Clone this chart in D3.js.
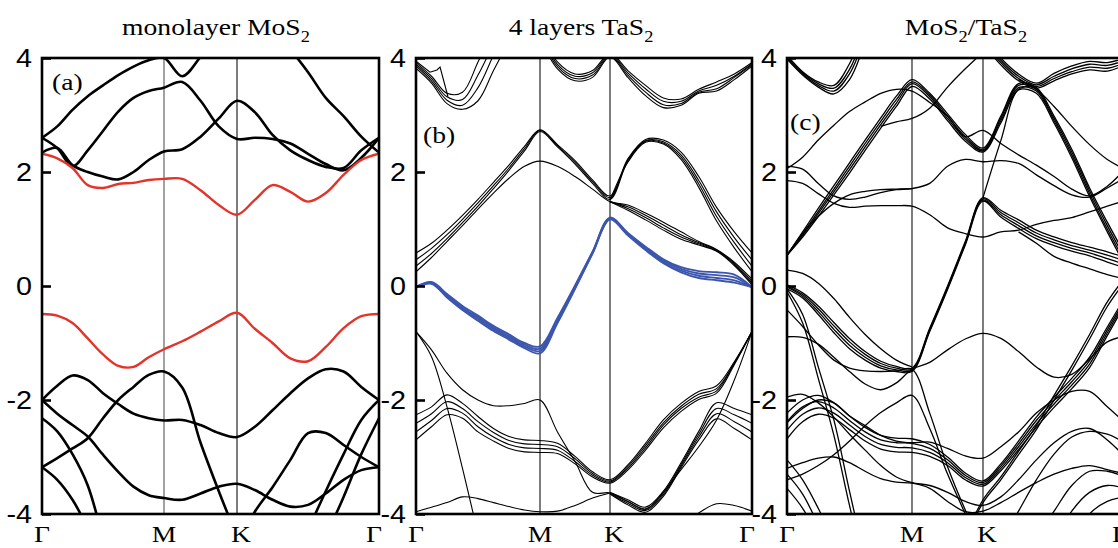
<!DOCTYPE html>
<html lang="en">
<head>
    <meta charset="UTF-8">
    <script src="https://d3js.org/d3.v7.min.js"></script>
    <title>Band structures</title>
    <style>
        body { margin: 0; background: #fff; }
        svg { display: block; }
        .serif { font-family: "Liberation Serif", "Times New Roman", serif; }
        .axis text { font-family: "Liberation Sans", Arial, sans-serif; }
    </style>
</head>
<body>
    <div id="chart"></div>
    <script>
        const _ = null;

        // k-path: Γ - M - K - Γ, energies sampled on this grid
        const kGrid = [0, 0.125, 0.25, 0.375, 0.5, 0.625, 0.75, 0.875, 1,
            1.144, 1.289, 1.433, 1.577,
            1.722, 1.866, 2.011, 2.155, 2.299, 2.444, 2.588, 2.732];
        const kTicks = [0, 1, 1.577, 2.732];
        const kLabels = ["Γ", "M", "K", "Γ"];
        const energyTicks = [4, 2, 0, -2, -4];

        // (a) monolayer MoS2
        const mosRed = [
            [2.32, 2.24, 2.07, 1.77, 1.72, 1.79, 1.81, 1.86, 1.88, 1.88, 1.68, 1.42, 1.25, 1.51, 1.77, 1.65, 1.48, 1.63, 1.95, 2.21, 2.32],
            [-0.49, -0.52, -0.65, -0.92, -1.20, -1.40, -1.42, -1.25, -1.11, -0.97, -0.80, -0.62, -0.47, -0.75, -1.00, -1.27, -1.32, -1.07, -0.74, -0.53, -0.49]
        ];
        const mosBlack = [
            [2.60, 2.80, 3.09, 3.33, 3.52, 3.70, 3.85, 3.96, 4.00, 3.68, 4.02, 4.40, 4.60, 4.60, 4.50, 4.15, 3.75, 3.30, 2.98, 2.62, 2.34],
            [2.60, 2.42, 2.10, 2.38, 2.72, 3.06, 3.30, 3.42, 3.48, 3.58, 3.25, 2.80, 2.58, 2.60, 2.58, 2.50, 2.32, 2.14, 2.03, 2.25, 2.60],
            [2.34, 2.42, 2.12, 2.00, 1.92, 1.87, 2.00, 2.21, 2.36, 2.40, 2.62, 2.94, 3.25, 3.05, 2.65, 2.38, 2.21, 2.09, 2.07, 2.38, 2.60],
            [-2.00, -1.75, -1.57, -1.65, -1.88, -2.07, -2.24, -2.32, -2.36, -2.35, -2.44, -2.58, -2.65, -2.47, -2.18, -1.88, -1.62, -1.46, -1.50, -1.77, -2.00],
            [-2.00, -2.24, -2.44, -2.64, -2.96, -3.26, -3.52, -3.67, -3.72, -3.75, -3.64, -3.52, -3.47, -3.58, -3.75, -3.87, -3.84, -3.64, -3.40, -3.23, -3.18],
            [-3.18, -3.02, -2.85, -2.67, -2.32, -2.00, -1.77, -1.56, -1.50, -1.78, -2.75, -3.60, -4.40, _, _, _, _, _, _, _, _],
            [-2.32, -2.55, -2.95, -3.50, -4.45, _, _, _, _, _, _, _, _, _, _, _, _, _, _, _, _],
            [-3.18, -3.40, -3.75, -4.25, _, _, _, _, _, _, _, _, _, _, _, _, _, _, _, _, _],
            [_, _, _, _, _, _, _, _, _, _, _, _, -4.60, -3.96, -3.53, -3.05, -2.58, -2.58, -2.79, -3.00, -3.18],
            [_, _, _, _, _, _, _, _, _, _, _, _, _, _, _, _, -4.28, -3.60, -2.95, -2.35, -2.00],
            [_, _, _, _, _, _, _, _, _, _, _, _, _, _, _, _, _, -4.40, -3.70, -2.95, -2.32]
        ];

        // (b) 4 layers TaS2
        const tasBlue = [
            [-0.02, 0.07, -0.14, -0.35, -0.52, -0.70, -0.85, -1.00, -1.06, -0.56, 0.01, 0.60, 1.20, 0.93, 0.69, 0.47, 0.33, 0.26, 0.24, 0.20, -0.02],
            [-0.02, 0.06, -0.16, -0.38, -0.55, -0.73, -0.88, -1.03, -1.10, -0.59, -0.01, 0.59, 1.19, 0.92, 0.67, 0.45, 0.30, 0.22, 0.19, 0.15, -0.02],
            [-0.02, 0.05, -0.18, -0.40, -0.58, -0.76, -0.91, -1.06, -1.14, -0.62, -0.03, 0.58, 1.18, 0.90, 0.65, 0.42, 0.27, 0.18, 0.14, 0.10, -0.02],
            [-0.02, 0.04, -0.20, -0.42, -0.61, -0.79, -0.94, -1.09, -1.18, -0.65, -0.05, 0.57, 1.17, 0.89, 0.63, 0.40, 0.24, 0.14, 0.10, 0.06, -0.02]
        ];
        const tasBlack = [
            // conduction bundle
            [0.58, 0.75, 0.98, 1.24, 1.52, 1.82, 2.12, 2.45, 2.74, 2.48, 2.20, 1.86, 1.58, 2.23, 2.57, 2.56, 2.35, 1.92, 1.38, 0.95, 0.58],
            [0.46, 0.66, 0.90, 1.17, 1.46, 1.76, 2.07, 2.41, 2.73, 2.46, 2.17, 1.83, 1.55, 2.21, 2.55, 2.53, 2.30, 1.85, 1.30, 0.85, 0.46],
            [0.35, 0.57, 0.83, 1.11, 1.40, 1.71, 2.03, 2.37, 2.71, 2.44, 2.14, 1.80, 1.52, 2.19, 2.54, 2.51, 2.26, 1.79, 1.22, 0.76, 0.35],
            [0.25, 0.50, 0.78, 1.06, 1.35, 1.63, 1.89, 2.10, 2.19, 2.10, 1.92, 1.70, 1.48, 1.42, 1.28, 1.12, 0.95, 0.78, 0.64, 0.42, 0.12],
            [_, _, _, _, _, _, _, _, _, _, _, _, 1.50, 2.17, 2.52, 2.49, 2.22, 1.73, 1.14, 0.67, 0.25],
            [_, _, _, _, _, _, _, _, _, _, _, _, 1.48, 1.39, 1.24, 1.07, 0.90, 0.76, 0.63, 0.40, 0.08],
            [_, _, _, _, _, _, _, _, _, _, _, _, 1.48, 1.36, 1.20, 1.02, 0.86, 0.74, 0.62, 0.38, 0.05],
            [_, _, _, _, _, _, _, _, _, _, _, _, 1.48, 1.33, 1.16, 0.98, 0.82, 0.72, 0.61, 0.36, 0.02],
            // top bands
            [3.92, 3.68, 3.38, 3.40, 3.93, 4.50, _, _, _, _, _, _, _, _, _, _, _, _, _, _, _],
            [3.89, 3.64, 3.32, 3.27, 3.70, 4.25, 4.80, _, _, _, _, _, _, _, _, _, _, _, _, _, _],
            [3.86, 3.60, 3.26, 3.17, 3.48, 4.05, 4.60, _, _, _, _, _, _, _, _, _, _, _, _, _, _],
            [3.82, 3.56, 3.20, 3.10, 3.25, 3.78, 4.30, _, _, _, _, _, _, _, _, _, _, _, _, _, _],
            [_, _, _, _, _, _, _, _, 4.50, 3.93, 3.72, 3.78, 4.08, 3.78, 3.52, 3.30, 3.28, 3.45, 3.58, 3.72, 3.92],
            [_, _, _, _, _, _, _, _, 4.45, 3.89, 3.68, 3.74, 4.06, 3.74, 3.46, 3.24, 3.24, 3.42, 3.52, 3.68, 3.90],
            [_, _, _, _, _, _, _, _, 4.40, 3.85, 3.64, 3.70, 4.04, 3.70, 3.40, 3.18, 3.20, 3.40, 3.46, 3.66, 3.88],
            [_, _, _, _, _, _, _, _, 4.35, 3.81, 3.60, 3.66, 4.02, 3.66, 3.34, 3.13, 3.17, 3.38, 3.42, 3.62, 3.86],
            // valence bands
            [-0.80, -1.24, -2.12, -3.20, -4.35, _, _, _, _, _, _, _, _, _, _, _, _, _, _, _, _],
            [-0.80, -1.12, -1.53, -1.82, -2.00, -2.10, -2.10, -2.06, -2.00, -2.56, -3.08, -3.62, -3.63, -3.78, -3.92, -3.62, -3.22, -2.82, -2.35, -1.65, -0.80],
            [-2.26, -2.12, -1.91, -2.06, -2.29, -2.50, -2.64, -2.70, -2.71, -2.76, -2.99, -3.26, -3.40, -3.14, -2.76, -2.35, -2.06, -1.85, -1.75, -1.33, -0.80],
            [-2.41, -2.24, -2.03, -2.15, -2.38, -2.57, -2.71, -2.77, -2.78, -2.82, -3.03, -3.29, -3.42, -3.17, -2.80, -2.40, -2.11, -1.90, -1.80, -1.35, -0.80],
            [-2.56, -2.36, -2.15, -2.23, -2.47, -2.65, -2.78, -2.84, -2.85, -2.88, -3.08, -3.32, -3.44, -3.20, -2.84, -2.44, -2.15, -1.95, -1.84, -1.36, -0.80],
            [-2.70, -2.47, -2.26, -2.32, -2.56, -2.72, -2.85, -2.91, -2.92, -2.94, -3.12, -3.35, -3.46, -3.23, -2.88, -2.49, -2.20, -1.99, -1.88, -1.38, -0.80],
            [_, _, _, _, _, _, _, _, _, _, _, _, -3.62, -3.75, -3.88, -3.60, -3.10, -2.55, -2.05, -2.15, -2.26],
            [_, _, _, _, _, _, _, _, _, _, _, _, -3.63, -3.78, -3.91, -3.63, -3.13, -2.60, -2.15, -2.26, -2.41],
            [_, _, _, _, _, _, _, _, _, _, _, _, -3.64, -3.81, -3.94, -3.66, -3.16, -2.65, -2.24, -2.38, -2.56],
            [_, _, _, _, _, _, _, _, _, _, _, _, -3.65, -3.84, -3.97, -3.69, -3.19, -2.70, -2.33, -2.50, -2.70],
            [-3.96, -3.88, -3.80, -3.70, -3.73, -3.80, -3.87, -3.93, -3.96, -3.95, -3.85, -3.72, -3.63, _, _, _, _, _, _, _, _],
            [_, _, _, _, _, _, _, _, _, _, _, _, _, _, _, _, -4.20, -3.98, -3.82, -3.85, -3.95]
        ];
        // small stepped band near the top left of (b), as [k, energy]
        const tasStep = [[0.008, 3.93], [0.113, 3.75], [0.169, 3.79], [0.194, 3.84], [0.258, 3.32]];

        // (c) MoS2/TaS2
        const hetBlack = [
            [4.05, 3.76, 3.58, 3.52, 3.90, 4.60, _, _, _, _, _, _, _, _, _, _, _, _, _, _, _],
            [4.02, 3.74, 3.55, 3.47, 3.80, 4.50, _, _, _, _, _, _, _, _, _, _, _, _, _, _, _],
            [4.00, 3.72, 3.52, 3.42, 3.72, 4.40, _, _, _, _, _, _, _, _, _, _, _, _, _, _, _],
            [3.98, 3.70, 3.49, 3.37, 3.62, 4.30, _, _, _, _, _, _, _, _, _, _, _, _, _, _, _],
            [0.54, 0.95, 1.36, 1.76, 2.16, 2.56, 2.95, 3.33, 3.62, 3.38, 3.02, 2.66, 2.42, 2.98, 3.55, 3.48, 2.98, 2.40, 1.72, 1.12, 0.55],
            [0.54, 0.92, 1.31, 1.70, 2.10, 2.50, 2.89, 3.27, 3.58, 3.35, 2.98, 2.62, 2.39, 2.94, 3.52, 3.45, 2.94, 2.35, 1.67, 1.06, 0.48],
            [0.54, 0.89, 1.27, 1.65, 2.04, 2.44, 2.83, 3.21, 3.55, 3.32, 2.94, 2.58, 2.37, 2.90, 3.48, 3.42, 2.90, 2.30, 1.62, 1.00, 0.42],
            [0.54, 0.86, 1.22, 1.60, 1.98, 2.38, 2.77, 3.15, 3.50, 3.28, 2.90, 2.54, 2.35, 2.86, 3.44, 3.38, 2.86, 2.25, 1.57, 0.95, 0.36],
            [_, _, _, _, _, _, _, _, _, _, _, _, 1.55, 2.55, 3.45, 3.50, _, _, _, _, _],
            [0.02, -0.12, -0.35, -0.64, -0.92, -1.15, -1.32, -1.41, -1.44, -0.74, 0.00, 0.78, 1.55, 1.33, 1.16, 0.98, 0.86, 0.76, 0.68, 0.60, 0.50],
            [0.00, -0.15, -0.40, -0.70, -0.98, -1.20, -1.36, -1.44, -1.46, -0.76, -0.02, 0.76, 1.53, 1.29, 1.11, 0.93, 0.81, 0.71, 0.63, 0.54, 0.44],
            [-0.02, -0.18, -0.45, -0.76, -1.04, -1.25, -1.40, -1.47, -1.48, -0.78, -0.04, 0.74, 1.51, 1.25, 1.06, 0.88, 0.76, 0.66, 0.58, 0.48, 0.38],
            [-0.05, -0.21, -0.50, -0.82, -1.10, -1.30, -1.44, -1.50, -1.50, -0.80, -0.06, 0.72, 1.49, 1.21, 1.01, 0.83, 0.71, 0.61, 0.53, 0.42, 0.32],
            [_, _, _, _, _, _, _, _, _, _, _, _, 4.40, 4.00, 3.72, 3.56, 3.73, 3.86, 3.94, 3.92, 4.00],
            [_, _, _, _, _, _, _, _, _, _, _, _, 4.35, 3.96, 3.68, 3.53, 3.68, 3.81, 3.89, 3.87, 3.96],
            [_, _, _, _, _, _, _, _, _, _, _, _, 4.30, 3.92, 3.64, 3.50, 3.64, 3.76, 3.84, 3.82, 3.92],
            [_, _, _, _, _, _, _, _, _, _, _, _, 4.25, 3.88, 3.60, 3.47, 3.60, 3.72, 3.79, 3.77, 3.88],
            [_, _, _, _, _, _, 2.80, 2.88, 2.94, 3.12, 3.49, 3.81, 4.10, _, _, _, _, _, _, _, _],
            [_, _, _, _, _, _, _, _, _, _, _, _, _, _, 3.62, 3.45, 3.15, 2.80, 2.48, 2.22, 2.05],
            [2.06, 2.26, 2.56, 2.82, 3.06, 3.23, 3.38, 3.45, 3.42, 3.22, 2.98, 2.62, 2.73, 2.50, 2.30, 2.12, 1.92, 1.70, 1.58, 1.75, 2.05],
            [2.10, 2.05, 1.80, 1.58, 1.52, 1.56, 1.64, 1.69, 1.71, 1.80, 2.10, 2.22, 2.18, 2.20, 2.15, 1.95, 1.76, 1.60, 1.56, 1.72, 1.90],
            [1.85, 1.80, 1.62, 1.45, 1.38, 1.40, 1.41, 1.41, 1.40, 1.25, 1.02, 0.92, 0.86, 0.95, 0.98, 1.08, 1.15, 1.20, 1.30, 1.40, 1.50],
            [0.54, 0.92, 1.22, 1.45, 1.60, 1.66, 1.69, 1.70, 1.71, _, _, _, _, _, _, _, _, _, _, _, _],
            [_, _, _, _, _, _, _, _, _, _, _, _, _, _, 0.95, 0.75, 0.52, 0.40, 0.30, 0.20, 0.12],
            [0.28, 0.22, 0.05, -0.22, -0.55, -0.85, -1.10, -1.30, -1.42, _, _, _, _, _, _, _, _, _, _, _, _],
            [-0.05, -0.50, -1.42, -2.35, -3.60, -4.80, _, _, _, _, _, _, _, _, _, _, _, _, _, _, _],
            [-0.10, -0.65, -1.62, -2.62, -3.85, -5.00, _, _, _, _, _, _, _, _, _, _, _, _, _, _, _],
            [-0.42, -0.71, -1.03, -1.30, -1.44, -1.49, -1.50, -1.49, -1.46, -2.23, -3.17, -3.93, -4.60, _, _, _, _, _, _, _, _],
            [_, _, _, _, _, _, _, _, _, _, _, -4.40, -3.75, -3.35, -2.90, -2.45, -1.92, -1.40, -0.85, -0.28, 0.15],
            [_, _, _, _, _, _, _, _, _, _, _, -4.45, -3.80, -3.40, -2.96, -2.52, -2.00, -1.48, -0.93, -0.36, 0.08],
            [-0.89, -0.90, -1.02, -1.25, -1.50, -1.72, -1.82, -1.70, -1.46, -1.34, -1.12, -0.93, -0.83, -0.92, -1.15, -1.42, -1.60, -1.55, -1.28, -0.98, -0.88],
            [-2.23, -2.00, -1.92, -2.05, -2.28, -2.48, -2.62, -2.67, -2.68, -2.78, -3.00, -3.28, -3.42, -3.12, -2.72, -2.30, -1.95, -1.62, -1.25, -0.72, -0.20],
            [-2.38, -2.12, -2.03, -2.14, -2.36, -2.56, -2.70, -2.75, -2.76, -2.85, -3.05, -3.32, -3.45, -3.16, -2.77, -2.36, -2.01, -1.68, -1.31, -0.77, -0.24],
            [-2.53, -2.25, -2.14, -2.23, -2.44, -2.64, -2.78, -2.83, -2.84, -2.92, -3.10, -3.36, -3.48, -3.20, -2.82, -2.42, -2.07, -1.74, -1.37, -0.82, -0.28],
            [-2.68, -2.38, -2.25, -2.32, -2.52, -2.72, -2.86, -2.91, -2.92, -2.99, -3.15, -3.40, -3.51, -3.24, -2.87, -2.48, -2.13, -1.80, -1.43, -0.87, -0.32],
            [-2.40, -2.15, -2.00, -2.05, -2.28, -2.45, -2.62, -2.72, -2.75, -2.74, -2.85, -2.98, -3.02, -2.82, -2.56, -2.23, -2.00, -1.85, -1.85, -2.12, -2.40],
            [-3.40, -3.30, -3.15, -2.96, -2.72, -2.45, -2.22, -2.05, -1.92, -2.50, -3.30, -4.00, -4.70, _, _, _, _, _, _, _, _],
            [-3.20, -3.10, -3.02, -3.00, -3.10, -3.25, -3.38, -3.44, -3.46, -3.55, -3.78, -3.96, -3.95, -3.80, -3.62, -3.45, -3.30, -3.20, -3.15, -3.22, -3.30],
            [-1.95, -1.90, -2.05, -2.30, -2.60, -2.88, -3.15, -3.35, -3.45, -3.50, -3.62, -3.78, -3.85, -3.70, -3.40, -3.05, -2.75, -2.55, -2.50, -2.70, -3.00],
            [-3.05, -3.40, -3.90, -4.50, _, _, _, _, _, _, _, _, _, _, _, _, _, _, _, _, _],
            [-3.30, -3.65, -4.20, _, _, _, _, _, _, _, _, _, _, _, _, _, _, _, _, _, _],
            [-3.55, -3.90, -4.40, _, _, _, _, _, _, _, _, _, _, _, _, _, _, _, _, _, _],
            [_, _, _, _, _, _, _, _, _, _, _, _, _, -4.50, -3.95, -3.40, -2.95, -2.65, -2.55, -2.60, -2.75],
            [_, _, _, _, _, _, _, _, _, _, _, _, _, _, _, -4.40, -3.95, -3.50, -3.25, -3.25, -3.35],
            [_, _, _, _, _, _, _, _, _, _, _, _, _, _, _, _, -4.50, -3.95, -3.62, -3.50, -3.55],
            [_, _, _, _, _, _, _, _, _, _, _, _, _, _, _, _, _, -4.60, -4.00, -3.78, -3.70]
        ];

        // Create chart dimensions
        const width = 1118;
        const height = 548;
        const yTop = 58;
        const yBottom = 514;
        const stretch = 1.15;
        const labelNudge = [0, 0, 4, -5];

        const panels = [
            {
                tag: "(a)", tagX: 52, tagY: 90, titleX: 216,
                title: [["monolayer MoS", 0], ["2", 1]],
                xs: [42, 164, 237, 379], symColor: ["#555", "#111"],
                sets: [
                    { bands: mosBlack, color: "#000", w: 2.6 },
                    { bands: mosRed, color: "#e3342b", w: 2.4 }
                ]
            },
            {
                tag: "(b)", tagX: 423, tagY: 143, titleX: 581,
                title: [["4 layers TaS", 0], ["2", 1]],
                xs: [416, 540, 610, 752], symColor: ["#111", "#111"],
                sets: [
                    { bands: tasBlack, color: "#000", w: 1.1 },
                    { bands: tasBlue, color: "#3c56ad", w: 1.9 }
                ],
                step: tasStep
            },
            {
                tag: "(c)", tagX: 790, tagY: 130, titleX: 966,
                title: [["MoS", 0], ["2", 1], ["/TaS", 0], ["2", 1]],
                xs: [787, 912, 983, 1125], symColor: ["#111", "#111"],
                sets: [
                    { bands: hetBlack, color: "#000", w: 1.3 }
                ]
            }
        ];

        // Draw canvas
        const svg = d3.select("#chart")
            .append("svg")
            .attr("width", width)
            .attr("height", height);

        svg.append("rect")
            .attr("width", width)
            .attr("height", height)
            .attr("fill", "#fff");

        const defs = svg.append("defs");
        const y = d3.scaleLinear().domain([-4, 4]).range([yBottom, yTop]);

        panels.forEach((p, n) => {
            const x = d3.scaleLinear().domain(kTicks).range(p.xs);
            const left = p.xs[0];
            const right = p.xs[3];

            defs.append("clipPath")
                .attr("id", `clip-${n}`)
                .append("rect")
                .attr("x", left)
                .attr("y", yTop)
                .attr("width", right - left)
                .attr("height", yBottom - yTop);

            const g = svg.append("g");

            // M and K guide lines
            g.selectAll(".sym")
                .data([kTicks[1], kTicks[2]])
                .join("line")
                .attr("x1", d => x(d))
                .attr("x2", d => x(d))
                .attr("y1", yTop)
                .attr("y2", yBottom)
                .attr("stroke", (d, i) => p.symColor[i])
                .attr("stroke-width", 1.1);

            // Bands
            const band = d3.line()
                .defined(d => d !== null)
                .x((d, i) => x(kGrid[i]))
                .y(d => y(d))
                .curve(d3.curveCatmullRom.alpha(0.5));

            const bandsG = g.append("g").attr("clip-path", `url(#clip-${n})`);

            p.sets.forEach(set => {
                bandsG.append("g")
                    .selectAll("path")
                    .data(set.bands)
                    .join("path")
                    .attr("d", band)
                    .attr("fill", "none")
                    .attr("stroke", set.color)
                    .attr("stroke-width", set.w)
                    .attr("stroke-linejoin", "round");
            });

            if (p.step) {
                bandsG.append("path")
                    .datum(p.step)
                    .attr("d", d3.line().x(d => x(d[0])).y(d => y(d[1])))
                    .attr("fill", "none")
                    .attr("stroke", "#000")
                    .attr("stroke-width", 1.1);
            }

            // Frame
            g.append("rect")
                .attr("x", left)
                .attr("y", yTop)
                .attr("width", right - left)
                .attr("height", yBottom - yTop)
                .attr("fill", "none")
                .attr("stroke", "#000")
                .attr("stroke-width", 2.6);

            // Energy axis
            const axis = d3.axisLeft(y)
                .tickValues(energyTicks)
                .tickSize(-9)
                .tickPadding(10)
                .tickFormat(d => String(d));

            const ax = g.append("g")
                .attr("class", "axis")
                .attr("transform", `translate(${left},0)`)
                .call(axis);

            ax.select(".domain").remove();
            ax.selectAll(".tick line")
                .attr("stroke", "#000")
                .attr("stroke-width", 2.6);
            ax.selectAll(".tick text")
                .attr("fill", "#000")
                .attr("font-size", 25)
                .attr("x", -10 / stretch)
                .attr("transform", `scale(${stretch},1)`);

            // k-point labels
            g.selectAll(".klabel")
                .data(kTicks)
                .join("g")
                .attr("transform", (d, i) => `translate(${x(d) + labelNudge[i]},542) scale(${stretch},1)`)
                .append("text")
                .attr("class", "serif")
                .attr("text-anchor", "middle")
                .attr("font-size", 24)
                .text((d, i) => kLabels[i]);

            // Panel title
            const t = svg.append("g")
                .attr("transform", `translate(${p.titleX},35) scale(${stretch},1)`)
                .append("text")
                .attr("class", "serif")
                .attr("text-anchor", "middle")
                .attr("font-size", 24);
            let shift = 0;
            p.title.forEach(([s, sub]) => {
                const dy = (sub ? 7 : 0) - shift;
                shift = sub ? 7 : 0;
                t.append("tspan")
                    .attr("dy", dy)
                    .attr("font-size", sub ? 16 : 24)
                    .text(s);
            });

            // Panel tag
            svg.append("g")
                .attr("transform", `translate(${p.tagX},${p.tagY}) scale(${stretch},1)`)
                .append("text")
                .attr("class", "serif")
                .attr("font-size", 24)
                .text(p.tag);
        });
    </script>
</body>
</html>
